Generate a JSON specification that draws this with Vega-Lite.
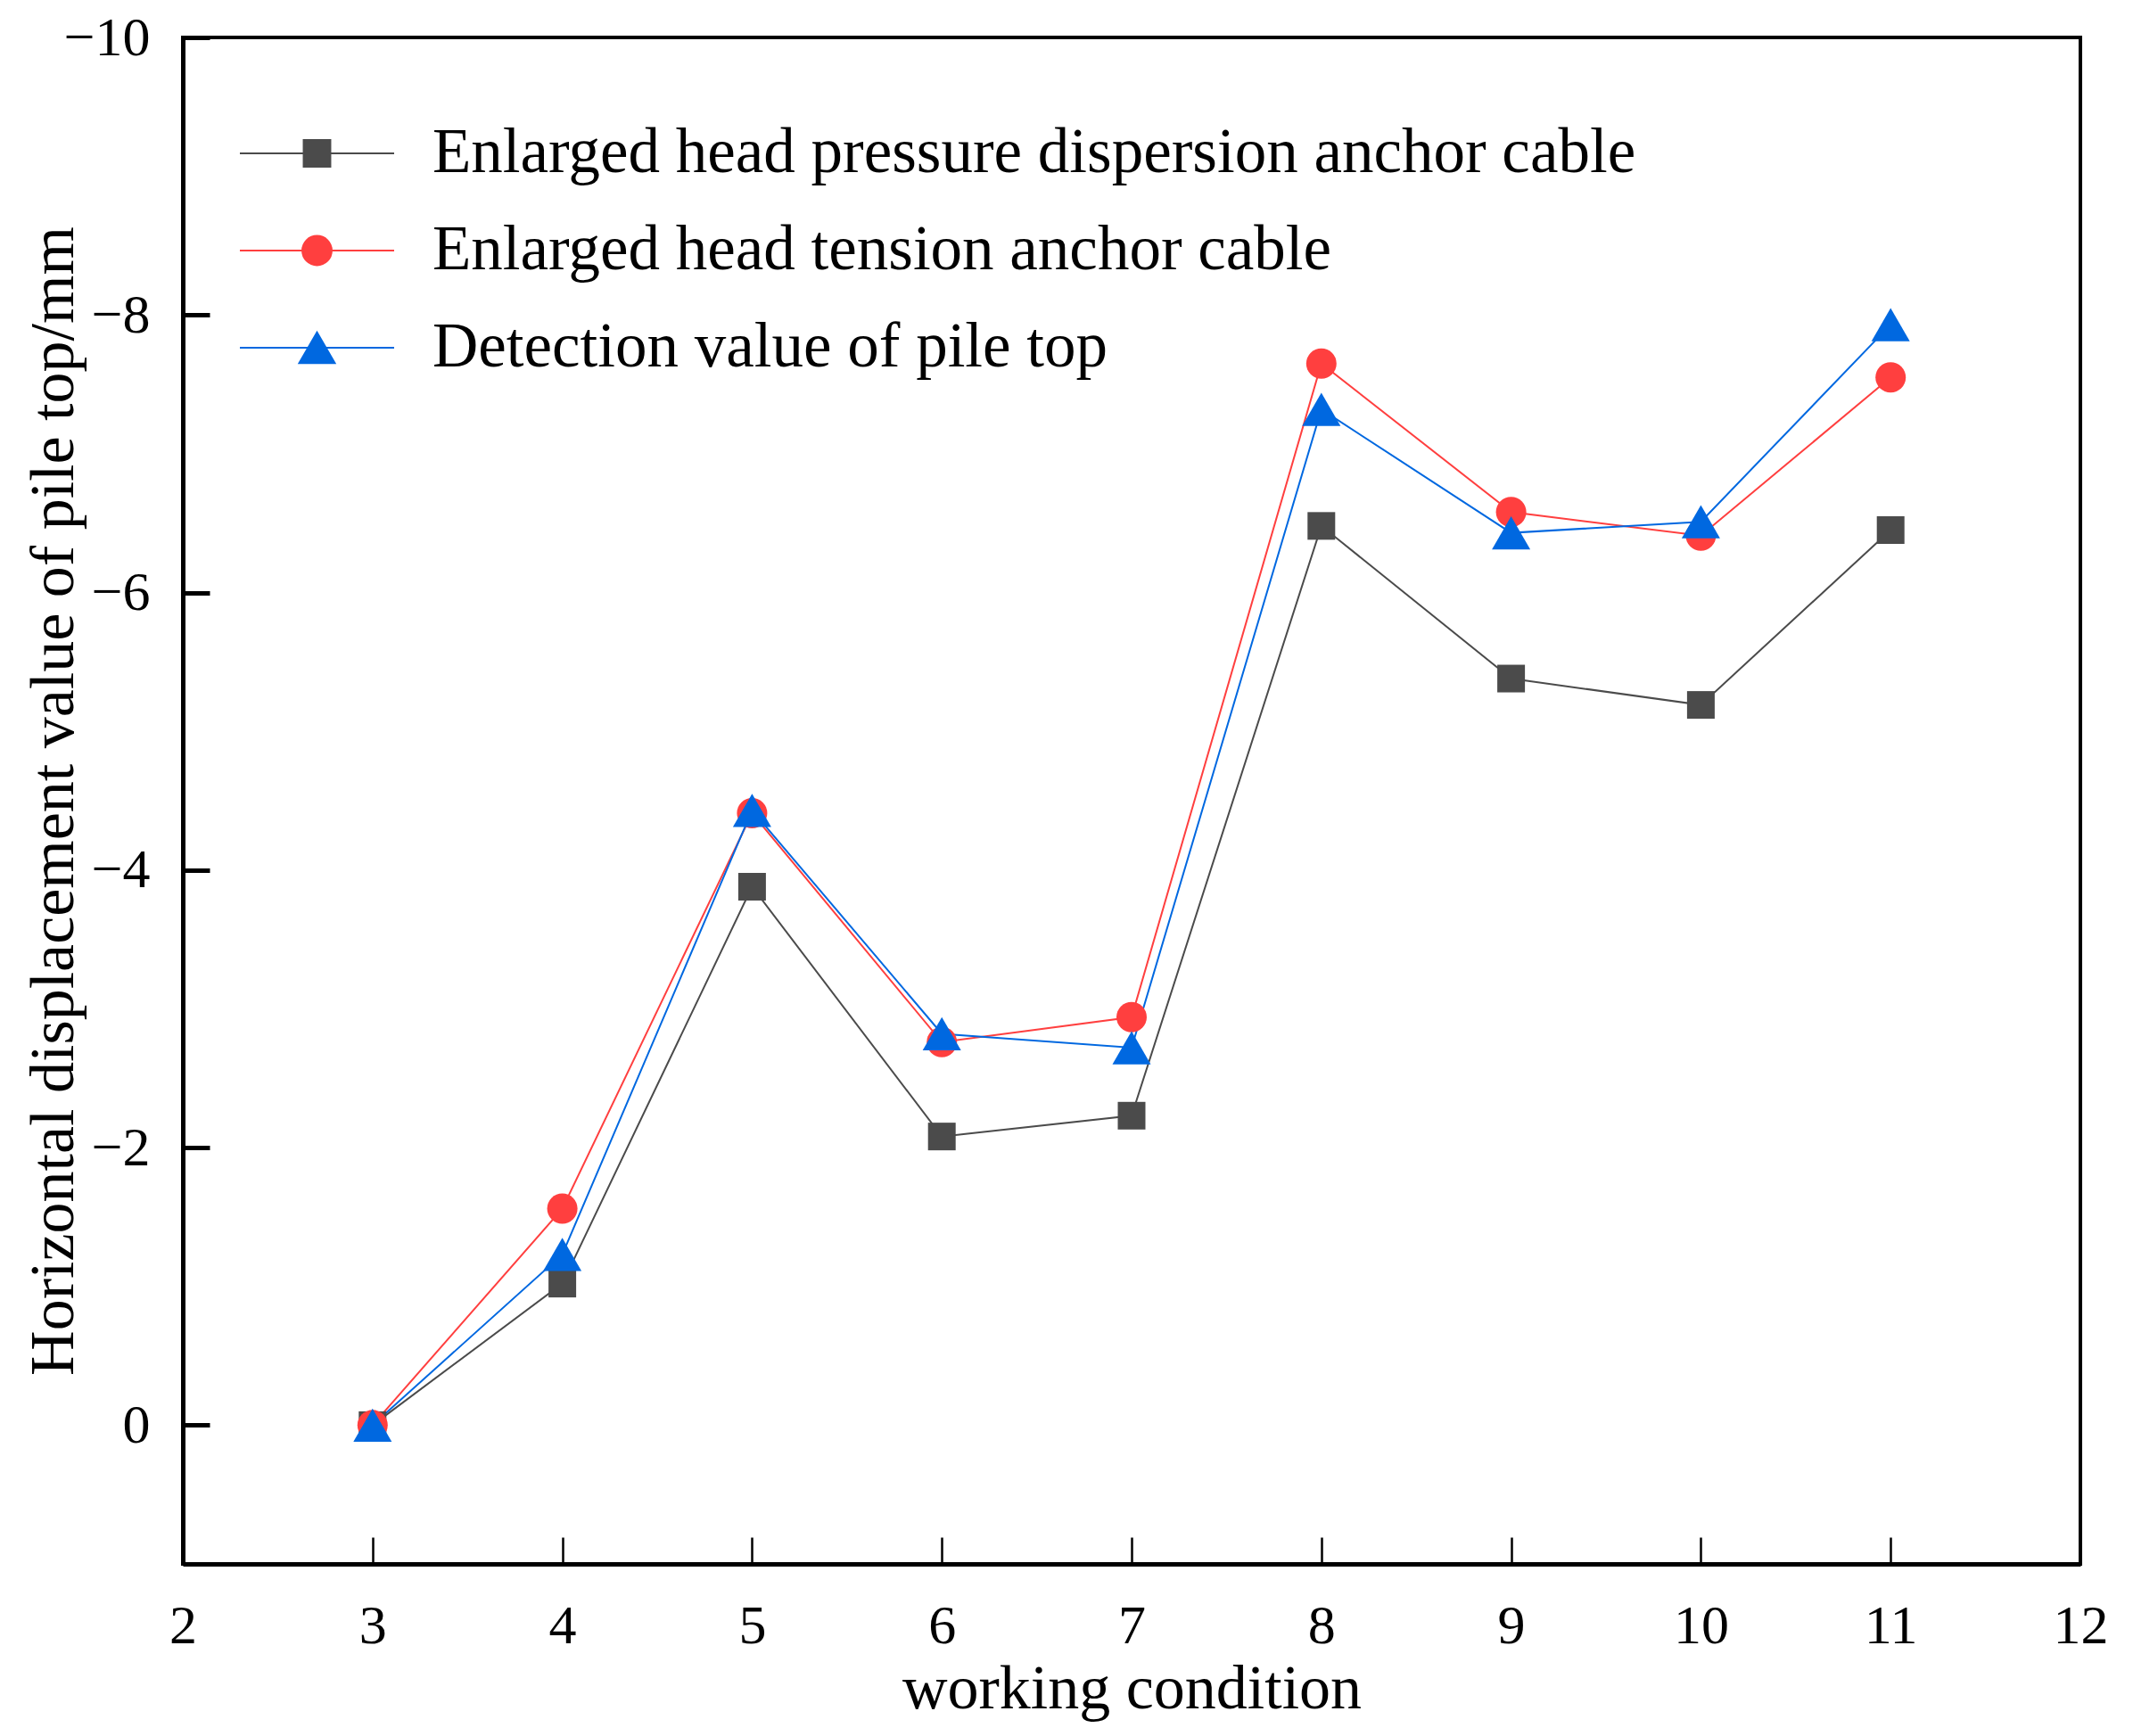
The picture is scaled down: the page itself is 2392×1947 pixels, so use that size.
{
  "$schema": "https://vega.github.io/schema/vega-lite/v6.json",
  "width": 2128,
  "height": 1712,
  "autosize": {"type": "none"},
  "padding": {"left": 205, "top": 42, "right": 59, "bottom": 193},
  "background": "white",
  "config": {
    "view": {"stroke": "black", "strokeWidth": 4},
    "font": "Liberation Serif",
    "legend": {
      "orient": "none",
      "legendX": 63,
      "legendY": 90,
      "padding": 0,
      "symbolSize": 29929,
      "symbolStrokeWidth": 2,
      "symbolOpacity": 1,
      "clipHeight": 80,
      "rowPadding": 29,
      "labelOffset": 42,
      "labelFont": "Liberation Serif",
      "labelFontSize": 71,
      "labelColor": "black",
      "labelLimit": 0
    }
  },
  "data": {
    "values": [
      {"wc": 3, "v": 0, "series": "Enlarged head pressure dispersion anchor cable"},
      {"wc": 4, "v": -1.02, "series": "Enlarged head pressure dispersion anchor cable"},
      {"wc": 5, "v": -3.88, "series": "Enlarged head pressure dispersion anchor cable"},
      {"wc": 6, "v": -2.08, "series": "Enlarged head pressure dispersion anchor cable"},
      {"wc": 7, "v": -2.23, "series": "Enlarged head pressure dispersion anchor cable"},
      {"wc": 8, "v": -6.48, "series": "Enlarged head pressure dispersion anchor cable"},
      {"wc": 9, "v": -5.38, "series": "Enlarged head pressure dispersion anchor cable"},
      {"wc": 10, "v": -5.19, "series": "Enlarged head pressure dispersion anchor cable"},
      {"wc": 11, "v": -6.45, "series": "Enlarged head pressure dispersion anchor cable"},
      {"wc": 3, "v": 0, "series": "Enlarged head tension anchor cable"},
      {"wc": 4, "v": -1.56, "series": "Enlarged head tension anchor cable"},
      {"wc": 5, "v": -4.41, "series": "Enlarged head tension anchor cable"},
      {"wc": 6, "v": -2.76, "series": "Enlarged head tension anchor cable"},
      {"wc": 7, "v": -2.94, "series": "Enlarged head tension anchor cable"},
      {"wc": 8, "v": -7.65, "series": "Enlarged head tension anchor cable"},
      {"wc": 9, "v": -6.58, "series": "Enlarged head tension anchor cable"},
      {"wc": 10, "v": -6.41, "series": "Enlarged head tension anchor cable"},
      {"wc": 11, "v": -7.55, "series": "Enlarged head tension anchor cable"},
      {"wc": 3, "v": 0, "series": "Detection value of pile top"},
      {"wc": 4, "v": -1.23, "series": "Detection value of pile top"},
      {"wc": 5, "v": -4.43, "series": "Detection value of pile top"},
      {"wc": 6, "v": -2.82, "series": "Detection value of pile top"},
      {"wc": 7, "v": -2.72, "series": "Detection value of pile top"},
      {"wc": 8, "v": -7.32, "series": "Detection value of pile top"},
      {"wc": 9, "v": -6.43, "series": "Detection value of pile top"},
      {"wc": 10, "v": -6.51, "series": "Detection value of pile top"},
      {"wc": 11, "v": -7.93, "series": "Detection value of pile top"}
    ]
  },
  "encoding": {
    "x": {
      "field": "wc", "type": "quantitative",
      "scale": {"domain": [2, 12], "nice": false, "zero": false},
      "axis": {
        "values": [2, 3, 4, 5, 6, 7, 8, 9, 10, 11, 12],
        "title": "working condition",
        "grid": false,
        "tickSize": -30, "tickWidth": 2.5, "tickColor": "black",
        "domainColor": "black", "domainWidth": 5,
        "labelPadding": 69, "labelFontSize": 62, "labelFont": "Liberation Serif", "labelColor": "black",
        "labelFlush": false, "labelOverlap": false,
        "titleFont": "Liberation Serif", "titleFontSize": 70, "titleFontWeight": "normal", "titleColor": "black",
        "titlePadding": 6
      }
    },
    "y": {
      "field": "v", "type": "quantitative",
      "scale": {"domain": [-10, 1], "reverse": true, "nice": false, "zero": false},
      "axis": {
        "values": [-10, -8, -6, -4, -2, 0],
        "title": "Horizontal displacement value of pile top/mm",
        "grid": false,
        "tickSize": -30, "tickWidth": 5, "tickColor": "black",
        "domainColor": "black", "domainWidth": 5,
        "labelPadding": 67, "labelFontSize": 62, "labelFont": "Liberation Serif", "labelColor": "black",
        "labelFlush": false, "labelOverlap": false,
        "titleFont": "Liberation Serif", "titleFontSize": 70, "titleFontWeight": "normal", "titleColor": "black",
        "titlePadding": -25
      }
    }
  },
  "layer": [
    {
      "mark": {"type": "line", "strokeWidth": 2},
      "encoding": {
        "stroke": {
          "field": "series", "type": "nominal",
          "scale": {
            "domain": ["Enlarged head pressure dispersion anchor cable", "Enlarged head tension anchor cable", "Detection value of pile top"],
            "range": ["#4b4b4b", "#ff3f3f", "#0068e0"]
          },
          "legend": {"title": null}
        }
      }
    },
    {
      "transform": [{"filter": "datum.series === 'Enlarged head pressure dispersion anchor cable'"}],
      "mark": {"type": "point", "filled": true, "opacity": 1, "strokeWidth": 0, "shape": "square", "size": 961},
      "encoding": {
        "fill": {
          "field": "series", "type": "nominal",
          "scale": {
            "domain": ["Enlarged head pressure dispersion anchor cable", "Enlarged head tension anchor cable", "Detection value of pile top"],
            "range": ["#4b4b4b", "#ff3f3f", "#0068e0"]
          },
          "legend": {"title": null}
        }
      }
    },
    {
      "transform": [{"filter": "datum.series === 'Enlarged head tension anchor cable'"}],
      "mark": {"type": "point", "filled": true, "opacity": 1, "strokeWidth": 0, "shape": "circle", "size": 1156},
      "encoding": {
        "fill": {"field": "series", "type": "nominal", "legend": {"title": null}}
      }
    },
    {
      "transform": [{"filter": "datum.series === 'Detection value of pile top'"}],
      "mark": {"type": "point", "filled": true, "opacity": 1, "strokeWidth": 0, "shape": "triangle-up", "size": 1850},
      "encoding": {
        "fill": {"field": "series", "type": "nominal", "legend": {"title": null}}
      }
    },
    {
      "transform": [{"filter": "false"}],
      "mark": {"type": "point", "filled": true, "opacity": 1, "strokeWidth": 2},
      "encoding": {
        "fill": {"field": "series", "type": "nominal", "legend": {"title": null}},
        "stroke": {"field": "series", "type": "nominal", "legend": {"title": null}},
        "shape": {
          "field": "series", "type": "nominal",
          "scale": {
            "domain": ["Enlarged head pressure dispersion anchor cable", "Enlarged head tension anchor cable", "Detection value of pile top"],
            "range": [
              "M-1,0H1M-0.173,-0.173H0.173V0.173H-0.173Z",
              "M-1,0H1M-0.19,0A0.19,0.19,0,1,1,0.19,0A0.19,0.19,0,1,1,-0.19,0Z",
              "M-1,0H1M0,-0.2L0.231,0.2L-0.231,0.2Z"
            ]
          },
          "legend": {"title": null}
        }
      }
    }
  ]
}
